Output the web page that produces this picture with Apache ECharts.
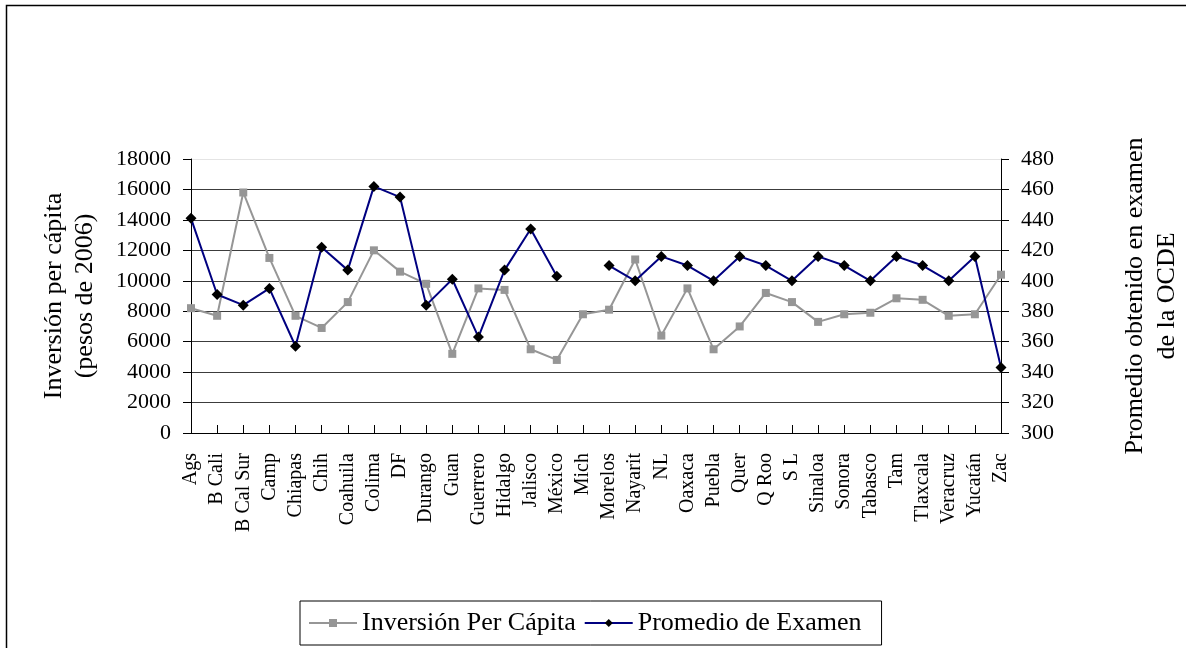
<!DOCTYPE html>
<html>
<head>
<meta charset="utf-8">
<script src="https://cdn.jsdelivr.net/npm/echarts@6/dist/echarts.min.js"></script>
<style>
  html, body { margin: 0; padding: 0; background: #fff; }
  #chart { width: 1186px; height: 648px; }
</style>
</head>
<body>
<div id="chart"></div>
<script>
var estados = ["Ags", "B Cali", "B Cal Sur", "Camp", "Chiapas", "Chih", "Coahuila", "Colima", "DF", "Durango",
  "Guan", "Guerrero", "Hidalgo", "Jalisco", "México", "Mich", "Morelos", "Nayarit", "NL", "Oaxaca", "Puebla",
  "Quer", "Q Roo", "S L", "Sinaloa", "Sonora", "Tabasco", "Tam", "Tlaxcala", "Veracruz", "Yucatán", "Zac"];

var inversion = [8200, 7700, 15800, 11500, 7700, 6900, 8600, 12000, 10600, 9800,
  5200, 9500, 9400, 5500, 4800, 7800, 8100, 11400, 6400, 9500, 5500,
  7000, 9200, 8600, 7300, 7800, 7900, 8850, 8750, 7700, 7800, 10400];

var promedio = [441, 391, 384, 395, 357, 422, 407, 462, 455, 384,
  401, 363, 407, 434, 403, null, 410, 400, 416, 410, 400,
  416, 410, 400, 416, 410, 400, 416, 410, 400, 416, 343];

var fuente = "'Liberation Serif', 'DejaVu Serif', serif";

// lineas de la rejilla: la de arriba mas clara
var coloresRejilla = ["#3c3c3c", "#3c3c3c", "#3c3c3c", "#3c3c3c", "#3c3c3c", "#3c3c3c", "#3c3c3c", "#3c3c3c", "#3c3c3c", "#e4e4e4"];

function sinSeparador(valor) {
  return String(valor);
}

var option = {
  animation: false,
  backgroundColor: "#fff",
  textStyle: { fontFamily: fuente, color: "#000" },
  graphic: [
    {
      type: "rect",
      shape: { x: 6.5, y: 5.5, width: 1300, height: 1000 },
      style: { fill: "none", stroke: "#000", lineWidth: 1.5 },
      silent: true,
    },
  ],
  grid: { left: 191, right: 185, top: 159, bottom: 215, outerBoundsMode: "none" },
  legend: {
    left: 300,
    top: 601,
    itemGap: 8,
    itemWidth: 48,
    itemHeight: 10,
    borderColor: "#000",
    borderWidth: 1,
    padding: [9, 20, 9, 8],
    textStyle: { fontSize: 26, fontFamily: fuente, color: "#000" },
    data: ["Inversión Per Cápita", "Promedio de Examen"],
  },
  xAxis: {
    type: "category",
    data: estados,
    boundaryGap: false,
    axisLine: { lineStyle: { color: "#000", width: 1 } },
    axisTick: { inside: true, length: 8, lineStyle: { color: "#000" } },
    axisLabel: {
      rotate: 90,
      interval: 0,
      margin: 20,
      fontSize: 20,
      fontFamily: fuente,
      color: "#000",
    },
  },
  yAxis: [
    {
      type: "value",
      position: "left",
      min: 0,
      max: 18000,
      interval: 2000,
      name: "Inversión per cápita\n(pesos de 2006)",
      nameLocation: "middle",
      nameGap: 90,
      nameTextStyle: { fontSize: 26, lineHeight: 31, fontFamily: fuente, color: "#000" },
      axisLine: { show: true, lineStyle: { color: "#000", width: 1 } },
      axisTick: { show: true, length: 8, lineStyle: { color: "#000" } },
      axisLabel: { margin: 20, fontSize: 22, fontFamily: fuente, color: "#000", formatter: sinSeparador },
      splitLine: { show: true, lineStyle: { color: coloresRejilla, width: 1 } },
    },
    {
      type: "value",
      position: "right",
      min: 300,
      max: 480,
      interval: 20,
      name: "Promedio obtenido en examen\nde la OCDE",
      nameLocation: "middle",
      nameGap: 118,
      nameTextStyle: { fontSize: 26, lineHeight: 32, fontFamily: fuente, color: "#000" },
      axisLine: { show: true, lineStyle: { color: "#000", width: 1 } },
      axisTick: { show: true, length: 8, lineStyle: { color: "#000" } },
      axisLabel: { margin: 20, fontSize: 22, fontFamily: fuente, color: "#000", formatter: sinSeparador },
      splitLine: { show: false },
    },
  ],
  series: [
    {
      name: "Inversión Per Cápita",
      type: "line",
      yAxisIndex: 0,
      data: inversion,
      symbol: "rect",
      symbolSize: 8,
      lineStyle: { color: "#969696", width: 2 },
      itemStyle: { color: "#969696" },
    },
    {
      name: "Promedio de Examen",
      type: "line",
      yAxisIndex: 1,
      data: promedio,
      connectNulls: false,
      symbol: "diamond",
      symbolSize: 11,
      lineStyle: { color: "#000080", width: 2 },
      itemStyle: { color: "#000" },
    },
  ],
};

var dom = document.getElementById("chart");
var myChart = echarts.init(dom, null, { renderer: "canvas" });
myChart.setOption(option);
</script>
</body>
</html>
